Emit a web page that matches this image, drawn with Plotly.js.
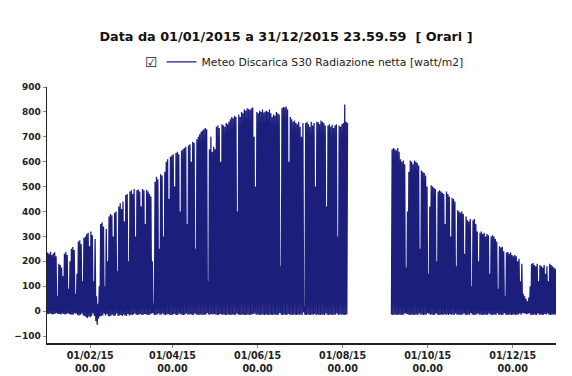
<!DOCTYPE html>
<html>
<head>
<meta charset="utf-8">
<script src="https://cdn.plot.ly/plotly-3.0.1.min.js"></script>
<style>html,body{margin:0;padding:0;background:#fff;}#chart{width:572px;height:376px;}</style>
</head>
<body>
<div id="chart"></div>
<script>
// Daily peak (midday) values of net radiation, watt/m2
const janPeak = [235,230,238,225,232,236,220,60,190,185,175,140,230,238,225,90,200,250,257,245,70,150,280,285,270,120,295,300,310,315,260];
const febPeak = [320,305,120,290,60,30,100,350,357,340,100,330,200,380,390,385,300,395,400,160,420,433,410,440,360,466,470,200];
const marPeak = [480,485,470,490,300,485,488,480,420,490,485,350,487,480,470,460,200,30,520,540,530,250,550,545,300,560,600,610,450,620,625];
const aprPeak = [630,500,635,640,630,400,645,650,655,660,350,665,670,600,680,675,250,690,700,710,720,725,730,735,730,120,650,700,640,660];
const mayPeak = [650,740,745,735,600,750,745,740,755,750,760,770,780,775,785,780,400,790,780,800,795,810,805,815,812,808,815,818,700,500,800];
const junPeak = [795,805,800,810,798,802,805,800,810,795,780,790,785,800,795,790,180,815,820,818,822,810,600,780,770,760,765,755,750,760];
const julPeak = [740,700,755,20,755,760,750,740,760,745,755,500,760,758,750,765,760,755,745,420,745,750,740,748,735,745,750,300,745,740,750];
const augPeak = [755,830,760,755,null,null,null,null,null,null,null,null,null,null,null,null,null,null,null,null,null,null,null,null,null,null,null,null,null,null,null];
const sepPeak = [null,null,null,null,650,655,650,645,655,640,610,600,605,590,175,400,560,605,600,590,605,600,595,585,250,565,560,555,545,500];
const octPeak = [150,420,505,500,495,490,200,480,485,480,475,470,350,480,470,460,300,455,450,440,180,405,400,395,400,390,230,380,365,360,370];
const novPeak = [100,365,370,350,320,200,315,320,310,315,300,310,305,150,300,305,300,290,280,90,260,255,258,240,60,235,237,230,235,225];
const decPeak = [220,225,220,200,210,120,190,70,60,50,40,55,100,190,193,185,180,190,120,185,180,175,185,150,180,120,190,185,180,175,170];

// Night-time (minimum) values, watt/m2
const janMin = [-12,-12,-10,-12,-14,-12,-10,-8,-12,-12,-14,-10,-12,-14,-12,-8,-12,-14,-15,-14,-8,-10,-16,-18,-15,-10,-18,-20,-25,-28,-22];
const febMin = [-25,-20,-10,-20,-40,-55,-30,-22,-20,-18,-10,-18,-12,-20,-22,-18,-15,-20,-18,-10,-20,-18,-16,-20,-15,-18,-20,-12];
const marMin = [-18,-15,-16,-14,-10,-15,-16,-14,-12,-16,-15,-12,-14,-15,-16,-14,-10,-8,-15,-16,-14,-10,-15,-14,-10,-15,-16,-14,-12,-15,-16];
const aprMin = [-15,-12,-14,-16,-15,-10,-14,-15,-16,-14,-10,-15,-14,-12,-16,-15,-10,-14,-15,-16,-14,-15,-16,-14,-15,-8,-14,-15,-12,-14];
const mayMin = [-12,-14,-15,-16,-12,-14,-15,-14,-16,-15,-14,-15,-16,-14,-15,-16,-10,-14,-15,-16,-14,-15,-16,-15,-14,-16,-15,-14,-12,-10,-15];
const junMin = [-14,-15,-16,-14,-15,-16,-14,-15,-16,-14,-15,-16,-14,-15,-16,-14,-8,-15,-16,-14,-15,-16,-12,-14,-15,-16,-14,-15,-16,-14];
const julMin = [-15,-14,-16,-5,-15,-16,-14,-15,-16,-14,-15,-12,-16,-14,-15,-16,-14,-15,-16,-10,-15,-16,-14,-15,-16,-14,-15,-10,-16,-14,-15];
const augMin = [-14,-16,-15,-14,null,null,null,null,null,null,null,null,null,null,null,null,null,null,null,null,null,null,null,null,null,null,null,null,null,null,null];
const sepMin = [null,null,null,null,-14,-16,-15,-14,-16,-15,-14,-16,-15,-14,-8,-12,-14,-16,-15,-14,-16,-15,-14,-16,-10,-15,-14,-16,-15,-14];
const octMin = [-8,-12,-15,-14,-16,-15,-10,-14,-16,-15,-14,-16,-12,-15,-14,-16,-12,-15,-14,-16,-10,-15,-14,-16,-15,-14,-10,-15,-16,-14,-15];
const novMin = [-8,-14,-16,-15,-14,-10,-15,-14,-16,-15,-14,-16,-15,-10,-14,-16,-15,-14,-16,-8,-15,-14,-16,-15,-8,-14,-16,-15,-14,-16];
const decMin = [-15,-14,-16,-15,-14,-10,-15,-8,-8,-10,-12,-10,-8,-15,-16,-14,-15,-16,-10,-15,-14,-16,-15,-12,-14,-10,-15,-16,-14,-15,-14];

// Axis tick positions and labels
const xTickVals = ['2015-02-01','2015-04-01','2015-06-01','2015-08-01','2015-10-01','2015-12-01'];
const xTickText = ['01/02/15<br>00.00','01/04/15<br>00.00','01/06/15<br>00.00','01/08/15<br>00.00','01/10/15<br>00.00','01/12/15<br>00.00'];
const yTickVals = [-100,0,100,200,300,400,500,600,700,800,900];

const peaks = [janPeak,febPeak,marPeak,aprPeak,mayPeak,junPeak,julPeak,augPeak,sepPeak,octPeak,novPeak,decPeak];
const mins = [janMin,febMin,marMin,aprMin,mayMin,junMin,julMin,augMin,sepMin,octMin,novMin,decMin];

const xs = [], ys = [];
function pad(n){return (n<10?'0':'')+n;}
peaks.forEach((arr, m) => {
  arr.forEach((v, i) => {
    const d = '2015-' + pad(m+1) + '-' + pad(i+1);
    xs.push(d + ' 00:00'); ys.push(mins[m][i]);
    xs.push(d + ' 12:00'); ys.push(v);
  });
});
xs.push('2016-01-01 00:00'); ys.push(-14);

const trace = {
  x: xs, y: ys, type: 'scatter', mode: 'lines',
  name: 'Meteo Discarica S30 Radiazione netta [watt/m2]',
  line: {color: '#1c1e7c', width: 1.3, simplify: false},
  connectgaps: false,
  hoverinfo: 'skip'
};

const layout = {
  width: 572, height: 376,
  margin: {l: 47, r: 16, t: 87, b: 33, pad: 0},
  paper_bgcolor: '#ffffff', plot_bgcolor: '#ffffff',
  font: {family: 'DejaVu Sans, Verdana, sans-serif', color: '#222'},
  title: {
    text: '<b>Data da 01/01/2015 a 31/12/2015 23.59.59  [ Orari ]</b>',
    font: {size: 12.8, family: 'DejaVu Sans, sans-serif', color: '#111'},
    x: 0.5, xanchor: 'center', y: 1 - 37/376, yanchor: 'middle', yref: 'container'
  },
  showlegend: true,
  legend: {
    orientation: 'h', x: 0.225, xanchor: 'left', y: 1.098, yanchor: 'middle',
    font: {size: 10.8, family: 'DejaVu Sans, sans-serif', color: '#222'},
    bgcolor: 'rgba(0,0,0,0)', itemwidth: 30
  },
  xaxis: {
    type: 'date', range: ['2015-01-01 00:00', '2016-01-01 00:00'],
    showgrid: false, zeroline: false, showline: true, linecolor: '#222', linewidth: 1.5,
    ticks: 'outside', ticklen: 3, tickcolor: '#888',
    tickmode: 'array', tickvals: xTickVals, ticktext: xTickText,
    tickfont: {size: 9.6, family: 'DejaVu Sans, sans-serif', color: '#222', weight: 'bold'}
  },
  yaxis: {
    range: [-128, 900], showgrid: false, zeroline: false,
    showline: true, linecolor: '#222', linewidth: 1.5,
    ticks: 'outside', ticklen: 3, tickcolor: '#888',
    tickmode: 'array', tickvals: yTickVals,
    tickfont: {size: 9, family: 'DejaVu Sans, sans-serif', color: '#222', weight: 'bold'}
  },
  annotations: [{
    text: '☑', xref: 'paper', yref: 'paper', x: 0.206, y: 1.098,
    xanchor: 'center', yanchor: 'middle', showarrow: false,
    font: {size: 14, color: '#222', family: 'DejaVu Sans, sans-serif'}
  }]
};

Plotly.newPlot('chart', [trace], layout, {staticPlot: true, displayModeBar: false});
</script>
</body>
</html>
